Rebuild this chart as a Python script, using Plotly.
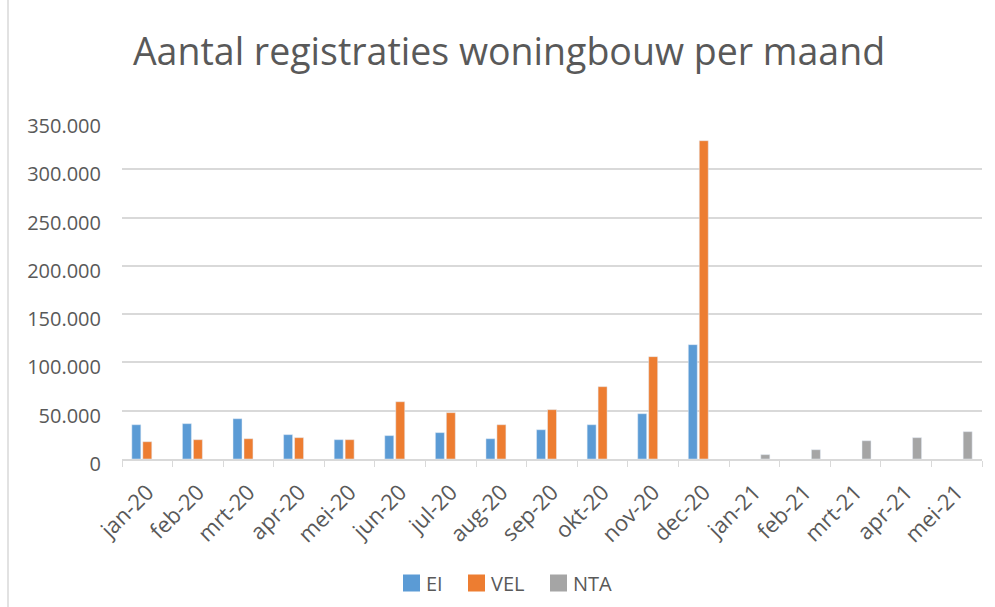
import plotly.graph_objects as go

categories = ["jan-20", "feb-20", "mrt-20", "apr-20", "mei-20", "jun-20", "jul-20", "aug-20",
              "sep-20", "okt-20", "nov-20", "dec-20", "jan-21", "feb-21", "mrt-21", "apr-21", "mei-21"]
ei = [35500, 36600, 41700, 25200, 20000, 24200, 27300, 21000, 30300, 35500, 46900, 118400,
      None, None, None, None, None]
vel = [17900, 20000, 21000, 22100, 20000, 59300, 48000, 35500, 51100, 74900, 106000, 329600,
       None, None, None, None, None]
nta = [None] * 12 + [4500, 9600, 18900, 22100, 28300]
y_ticks = [0, 50000, 100000, 150000, 200000, 250000, 300000, 350000]
series_names = ["EI", "VEL", "NTA"]
series_colors = ["#5B9BD5", "#ED7D31", "#A5A5A5"]

font_family = "Open Sans, Liberation Sans, sans-serif"
grey_text = "#595959"

fig = go.Figure()
for name, vals, col in zip(series_names, [ei, vel, nta], series_colors):
    fig.add_bar(name=name, x=categories, y=vals, marker_color=col, showlegend=False)

L, R, T, B = 122, 13, 121, 148
W, H = 995, 607
pw = W - L - R
ph = H - T - B


def px_x(x):
    return (x - L) / pw


def px_y(y):
    return (H - B - y) / ph


# custom legend (square symbols and labels), positions in pixels
legend_sq_x = [403, 468, 550]
legend_y = 583
sq = 17
shapes = [dict(type="line", xref="paper", yref="paper",
               x0=px_x(8), x1=px_x(8), y0=px_y(H), y1=px_y(0),
               line=dict(color="#D9D9D9", width=1.5))]
annotations = []
for x0, name, col in zip(legend_sq_x, series_names, series_colors):
    shapes.append(dict(type="rect", xref="paper", yref="paper",
                       x0=px_x(x0), x1=px_x(x0 + sq),
                       y0=px_y(legend_y + sq / 2), y1=px_y(legend_y - sq / 2),
                       fillcolor=col, line=dict(width=0)))
    annotations.append(dict(text=name, xref="paper", yref="paper",
                            x=px_x(x0 + sq + 4), y=px_y(legend_y),
                            xanchor="left", yanchor="middle", showarrow=False,
                            font=dict(size=20, color=grey_text, family=font_family)))

fig.update_layout(
    width=W, height=H,
    margin=dict(l=L, r=R, t=T, b=B, autoexpand=False),
    paper_bgcolor="white", plot_bgcolor="white",
    barmode="group", bargap=0.35, bargroupgap=0.18,
    separators=",.",
    font=dict(family=font_family, color=grey_text, size=19),
    title=dict(text="Aantal registraties woningbouw per maand",
               x=509 / W, xref="container", xanchor="center",
               y=1 - 52 / H, yref="container", yanchor="middle",
               font=dict(size=37.5, color=grey_text, family=font_family)),
    showlegend=False,
    xaxis=dict(showgrid=False, showline=True, linecolor="#D9D9D9", linewidth=1.5,
               ticks="outside", tickson="boundaries", ticklen=6, tickcolor="#D9D9D9",
               tickangle=-45, tickfont=dict(size=22, color=grey_text), automargin=False,
               ticklabelstandoff=10),
    yaxis=dict(range=[0, 350000], tickvals=y_ticks, tickformat=",d",
               showgrid=True, gridcolor="#D9D9D9", gridwidth=1.5,
               zeroline=False, showline=False, ticks="",
               tickfont=dict(size=20, color=grey_text), ticklabelstandoff=20,
               ticklabelshift=5, automargin=False),
    shapes=shapes,
    annotations=annotations,
)

fig.write_html("out.html", config={"displayModeBar": False},
               post_script="document.body.style.margin='0';document.body.style.overflow='hidden';")
